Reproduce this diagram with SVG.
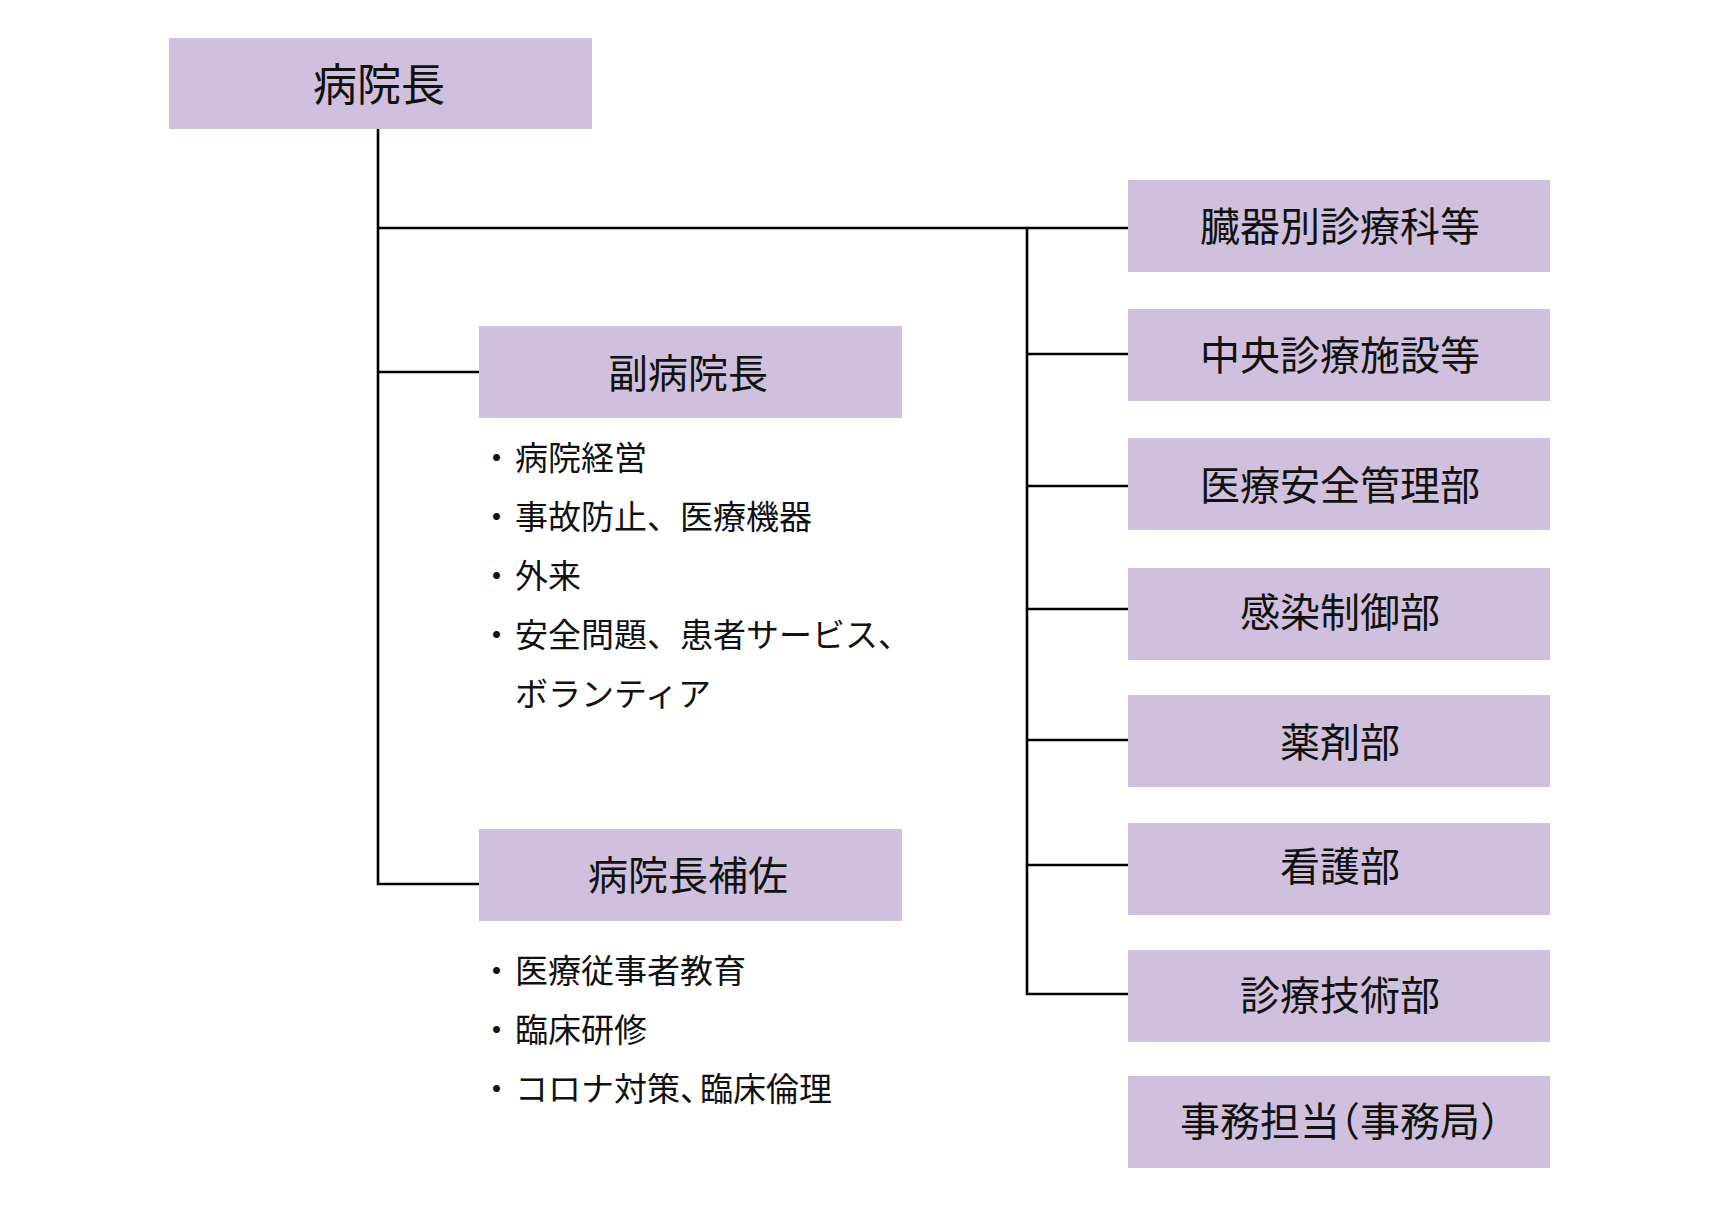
<svg xmlns="http://www.w3.org/2000/svg" width="1720" height="1214" viewBox="0 0 1720 1214">
<style>
.box{fill:#cfc0dd;}
.t{font-family:"Noto Sans CJK JP","Noto Sans CJK SC",sans-serif;fill:#111;text-anchor:middle;font-size:40px;}
.top{font-size:44px;}
.b{font-family:"Noto Sans CJK JP","Noto Sans CJK SC",sans-serif;fill:#111;font-size:33px;}
.ln{stroke:#000;stroke-width:2.6;fill:none;}
</style>
<rect width="1720" height="1214" fill="#fff"/>
<g id="connectors">
<path class="ln" d="M378 129 V884 H479"/>
<path class="ln" d="M378 228 H1128"/>
<path class="ln" d="M378 372 H479"/>
<path class="ln" d="M1027 228 V994 H1128"/>
<path class="ln" d="M1027 354 H1128"/>
<path class="ln" d="M1027 486 H1128"/>
<path class="ln" d="M1027 609 H1128"/>
<path class="ln" d="M1027 740 H1128"/>
<path class="ln" d="M1027 865 H1128"/>
</g>
<g id="n-director"><rect class="box" x="169" y="38" width="423" height="91"/><text class="t top" x="379" y="101">病院長</text></g>
<g id="n-vice"><rect class="box" x="479" y="326" width="423" height="92"/><text class="t" x="688" y="388">副病院長</text></g>
<g id="n-vice-list">
<text class="b" x="480" y="470">・<tspan x="515">病院経営</tspan></text>
<text class="b" x="480" y="529">・<tspan x="515">事故防止、医療機器</tspan></text>
<text class="b" x="480" y="588">・<tspan x="515">外来</tspan></text>
<text class="b" x="480" y="647">・<tspan x="515">安全問題、患者サービス、</tspan></text>
<text class="b" x="515" y="706">ボランティア</text>
</g>
<g id="n-assist"><rect class="box" x="479" y="829" width="423" height="92"/><text class="t" x="688" y="890">病院長補佐</text></g>
<g id="n-assist-list">
<text class="b" x="480" y="983">・<tspan x="515">医療従事者教育</tspan></text>
<text class="b" x="480" y="1042">・<tspan x="515">臨床研修</tspan></text>
<text class="b" x="480" y="1101">・<tspan x="515">コロナ対策、<tspan dx="-13">臨床倫理</tspan></tspan></text>
</g>
<g id="n-r1"><rect class="box" x="1128" y="180" width="422" height="92"/><text class="t" x="1340" y="241">臓器別診療科等</text></g>
<g id="n-r2"><rect class="box" x="1128" y="309" width="422" height="92"/><text class="t" x="1340" y="370">中央診療施設等</text></g>
<g id="n-r3"><rect class="box" x="1128" y="438" width="422" height="92"/><text class="t" x="1340" y="500">医療安全管理部</text></g>
<g id="n-r4"><rect class="box" x="1128" y="568" width="422" height="92"/><text class="t" x="1340" y="627">感染制御部</text></g>
<g id="n-r5"><rect class="box" x="1128" y="695" width="422" height="92"/><text class="t" x="1340" y="757">薬剤部</text></g>
<g id="n-r6"><rect class="box" x="1128" y="823" width="422" height="92"/><text class="t" x="1340" y="881">看護部</text></g>
<g id="n-r7"><rect class="box" x="1128" y="950" width="422" height="92"/><text class="t" x="1340" y="1010">診療技術部</text></g>
<g id="n-r8"><rect class="box" x="1128" y="1076" width="422" height="92"/><text class="t" x="1340" y="1136" style="font-feature-settings:'halt'">事務担当（事務局）</text></g>
</svg>
